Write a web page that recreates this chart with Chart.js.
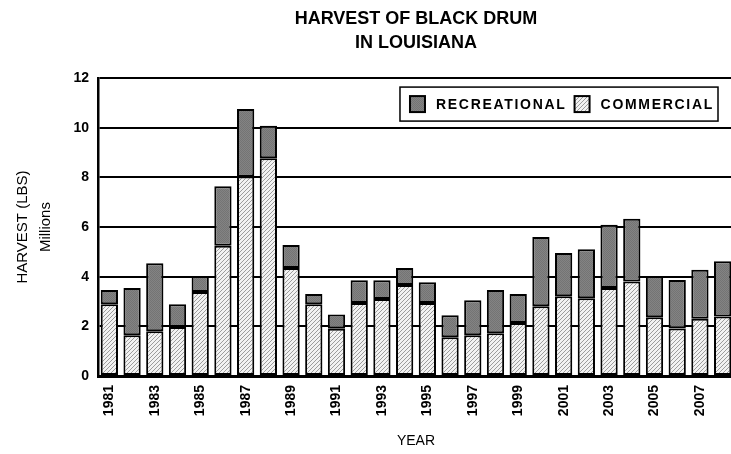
<!DOCTYPE html>
<html>
<head>
<meta charset="utf-8">
<script src="https://cdn.jsdelivr.net/npm/chart.js@4.4.1/dist/chart.umd.min.js"></script>
<style>
  html, body { margin: 0; padding: 0; background: #fff; overflow: hidden; }
  #wrap { width: 736px; height: 454px; }
</style>
</head>
<body>
<div id="wrap"><canvas id="c"></canvas></div>
<script>
// Harvest of black drum in Louisiana, millions of pounds
const years = [1981, 1982, 1983, 1984, 1985, 1986, 1987, 1988, 1989, 1990,
               1991, 1992, 1993, 1994, 1995, 1996, 1997, 1998, 1999, 2000,
               2001, 2002, 2003, 2004, 2005, 2006, 2007, 2008];
const commercial = [2.89, 1.64, 1.80, 1.97, 3.38, 5.25, 8.04, 8.77, 4.35, 2.89,
                    1.90, 2.94, 3.10, 3.67, 2.94, 1.56, 1.64, 1.72, 2.13, 2.81,
                    3.21, 3.13, 3.54, 3.81, 2.37, 1.91, 2.31, 2.40];
const recreational = [0.57, 1.90, 2.74, 0.92, 0.65, 2.39, 2.71, 1.31, 0.93, 0.41,
                      0.58, 0.92, 0.76, 0.68, 0.84, 0.89, 1.41, 1.74, 1.17, 2.79,
                      1.74, 1.98, 2.55, 2.52, 1.66, 1.96, 1.97, 2.22];
const yTicks = [0, 2, 4, 6, 8, 10, 12];

const FONT = "'Liberation Sans', Arial, sans-serif";

// Fine diagonal hatch for the commercial bars
function hatchPattern() {
  const t = document.createElement('canvas');
  t.width = 4; t.height = 4;
  const g = t.getContext('2d');
  g.fillStyle = '#f2f2f2';
  g.fillRect(0, 0, 4, 4);
  g.strokeStyle = '#9c9c9c';
  g.lineWidth = 1;
  g.beginPath();
  g.moveTo(0, 4); g.lineTo(4, 0);
  g.moveTo(-1, 1); g.lineTo(1, -1);
  g.moveTo(3, 5); g.lineTo(5, 3);
  g.stroke();
  return g.createPattern(t, 'repeat');
}
// Dotted dark grey fill for the recreational bars
function stipplePattern() {
  const t = document.createElement('canvas');
  t.width = 2; t.height = 2;
  const g = t.getContext('2d');
  g.fillStyle = '#838383';
  g.fillRect(0, 0, 2, 2);
  g.fillStyle = '#747474';
  g.fillRect(0, 0, 1, 1);
  g.fillRect(1, 1, 1, 1);
  return g.createPattern(t, 'repeat');
}
const comFill = hatchPattern();
const recFill = stipplePattern();

// Boxed legend drawn in the upper right of the plot
const boxLegend = {
  id: 'boxLegend',
  afterDraw(chart) {
    const ctx = chart.ctx;
    const a = chart.chartArea;
    const items = [
      { label: 'RECREATIONAL', fill: recFill },
      { label: 'COMMERCIAL', fill: comFill }
    ];
    ctx.save();
    ctx.font = 'bold 14px ' + FONT;
    ctx.letterSpacing = '1.7px';
    const sw = 15, pad = 10, gap = 11, between = 8;
    let w = pad;
    items.forEach((it, i) => {
      it.tw = ctx.measureText(it.label).width;
      w += sw + gap + it.tw + (i < items.length - 1 ? between : 0);
    });
    w += 4;
    const h = 34;
    const x0 = a.right - 16 - w;
    const y0 = a.top + 9;
    ctx.fillStyle = '#fff';
    ctx.fillRect(x0, y0, w, h);
    ctx.strokeStyle = '#000';
    ctx.lineWidth = 1.5;
    ctx.strokeRect(x0, y0, w, h);
    let x = x0 + pad;
    const cy = y0 + h / 2;
    items.forEach(it => {
      ctx.fillStyle = it.fill;
      ctx.fillRect(x, cy - 8, sw, 16);
      ctx.lineWidth = 2;
      ctx.strokeRect(x, cy - 8, sw, 16);
      x += sw + gap;
      ctx.fillStyle = '#000';
      ctx.textBaseline = 'middle';
      ctx.textAlign = 'left';
      ctx.fillText(it.label, x, cy + 1);
      x += it.tw + between;
    });
    ctx.restore();
  }
};

new Chart(document.getElementById('c'), {
  type: 'bar',
  data: {
    labels: years,
    datasets: [
      {
        label: 'COMMERCIAL',
        data: commercial,
        backgroundColor: comFill,
        borderColor: '#000',
        borderWidth: 2,
        borderSkipped: false,
        barPercentage: 0.76,
        categoryPercentage: 1.0
      },
      {
        label: 'RECREATIONAL',
        data: recreational,
        backgroundColor: recFill,
        borderColor: '#000',
        borderWidth: 2,
        borderSkipped: false,
        barPercentage: 0.76,
        categoryPercentage: 1.0
      }
    ]
  },
  options: {
    responsive: true,
    maintainAspectRatio: false,
    animation: false,
    layout: { padding: { left: 0, right: 2, top: 0, bottom: 2 } },
    plugins: {
      legend: { display: false },
      tooltip: { enabled: false },
      title: {
        display: true,
        fullSize: false,
        text: ['HARVEST OF BLACK DRUM', 'IN LOUISIANA'],
        color: '#000',
        font: { family: FONT, size: 18, weight: 'bold', lineHeight: 1.28 },
        padding: { top: 8, bottom: 24 }
      }
    },
    scales: {
      x: {
        stacked: true,
        grid: { display: false, drawTicks: false },
        border: { display: true, color: '#000', width: 3 },
        ticks: {
          autoSkip: false,
          maxRotation: 90,
          minRotation: 90,
          padding: 9,
          color: '#000',
          font: { family: FONT, size: 14, weight: 'bold' },
          callback: function (v, i) { return i % 2 === 0 ? String(years[i]) : ''; }
        },
        title: {
          display: true,
          text: 'YEAR',
          color: '#000',
          font: { family: FONT, size: 14 },
          padding: { top: 0, bottom: 2 }
        },
        afterFit(s) { s.height = 76; s.paddingLeft = 0; s.paddingRight = 0; }
      },
      y: {
        stacked: true,
        min: 0,
        max: 12,
        afterBuildTicks(s) { s.ticks = yTicks.map(v => ({ value: v })); },
        grid: { color: '#000', lineWidth: 2, drawTicks: false },
        border: { display: true, color: '#000', width: 2.5 },
        ticks: {
          padding: 9,
          color: '#000',
          font: { family: FONT, size: 14, weight: 'bold' }
        },
        title: {
          display: true,
          text: ['HARVEST (LBS)', 'Millions'],
          color: '#000',
          font: { family: FONT, size: 15, lineHeight: 1.5 },
          padding: { top: 12, bottom: 4 }
        },
        afterFit(s) { s.width = 98; }
      }
    }
  },
  plugins: [boxLegend]
});
</script>
</body>
</html>
